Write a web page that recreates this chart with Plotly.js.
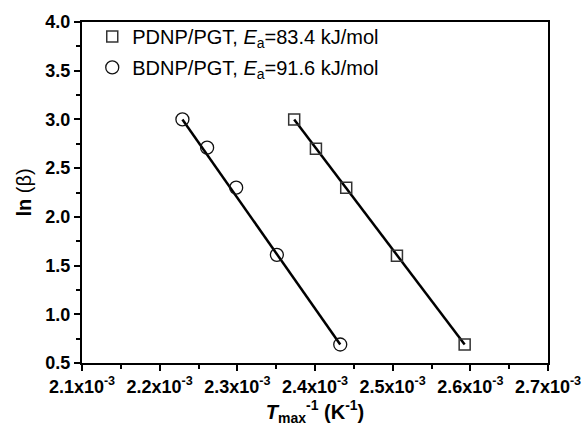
<!DOCTYPE html>
<html>
<head>
<meta charset="utf-8">
<script src="https://cdn.plot.ly/plotly-3.0.1.min.js"></script>
<style>html,body{margin:0;padding:0;background:#fff;}#chart{width:585px;height:435px;}</style>
</head>
<body>
<div id="chart"></div>
<script>
// Data
var pdnpX = [0.0023732, 0.0024012, 0.0024402, 0.0025055, 0.0025927];
var pdnpY = [3.00, 2.70, 2.30, 1.60, 0.69];
var bdnpX = [0.0022293, 0.0022611, 0.0022985, 0.0023509, 0.0024325];
var bdnpY = [3.00, 2.71, 2.30, 1.61, 0.69];
// Fit line endpoints
var pdnpFitX = [0.0023732, 0.0025927];
var pdnpFitY = [3.00, 0.69];
var bdnpFitX = [0.0022293, 0.0024325];
var bdnpFitY = [3.00, 0.69];
var xTickVals = [0.0021, 0.0022, 0.0023, 0.0024, 0.0025, 0.0026, 0.0027];
var xTickText = ['2.1x10<sup>-3</sup>','2.2x10<sup>-3</sup>','2.3x10<sup>-3</sup>','2.4x10<sup>-3</sup>','2.5x10<sup>-3</sup>','2.6x10<sup>-3</sup>','2.7x10<sup>-3</sup>'];
var yTickVals = [0.5, 1.0, 1.5, 2.0, 2.5, 3.0, 3.5, 4.0];
var yTickText = ['0.5','1.0','1.5','2.0','2.5','3.0','3.5','4.0'];
var legendNames = ['PDNP/PGT, <i>E</i><sub>a</sub>=83.4 kJ/mol', 'BDNP/PGT, <i>E</i><sub>a</sub>=91.6 kJ/mol'];

function bold(arr) { return arr.map(function (s) { return '<b>' + s + '</b>'; }); }

var traces = [
  {x: pdnpFitX, y: pdnpFitY, mode: 'lines', line: {color: '#000', width: 2.5}, showlegend: false, hoverinfo: 'skip'},
  {x: bdnpFitX, y: bdnpFitY, mode: 'lines', line: {color: '#000', width: 2.5}, showlegend: false, hoverinfo: 'skip'},
  {x: pdnpX, y: pdnpY, mode: 'markers', name: legendNames[0], legendgroup: 'a',
   marker: {symbol: 'square-open', size: 11, color: '#333', line: {width: 1.5}}},
  {x: bdnpX, y: bdnpY, mode: 'markers', name: legendNames[1], legendgroup: 'b',
   marker: {symbol: 'circle-open', size: 13, color: '#111', line: {width: 1.3}}}
];

var axisCommon = {
  showgrid: false, zeroline: false, showline: true, linecolor: '#000', linewidth: 2,
  mirror: true, ticks: 'outside', ticklen: 6, tickwidth: 2, tickcolor: '#000',
  tickfont: {family: 'Arial, Liberation Sans, sans-serif', size: 18, color: '#000'}
};

var layout = {
  width: 585, height: 435,
  margin: {l: 82, r: 37, t: 22, b: 72},
  paper_bgcolor: '#fff', plot_bgcolor: '#fff',
  font: {family: 'Arial, Liberation Sans, sans-serif', color: '#000'},
  xaxis: Object.assign({}, axisCommon, {
    range: [0.0021, 0.0027], tickmode: 'array', tickvals: xTickVals, ticktext: bold(xTickText),
    minor: {dtick: 0.00005, ticks: 'outside', ticklen: 4, tickwidth: 2, tickcolor: '#000'},
    title: {text: '<b><i>T</i><sub>max</sub><sup>-1</sup> (K<sup>-1</sup>)</b>', font: {size: 20, color: '#000'}, standoff: 9}
  }),
  yaxis: Object.assign({}, axisCommon, {
    range: [0.5, 4.0], tickmode: 'array', tickvals: yTickVals, ticktext: bold(yTickText),
    minor: {dtick: 0.25, ticks: 'outside', ticklen: 4, tickwidth: 2, tickcolor: '#000'},
    title: {text: '<b>ln</b> (β)', font: {size: 20, color: '#000'}, standoff: 8}
  }),
  legend: {x: 0.022, y: 1.015, xanchor: 'left', yanchor: 'top', bgcolor: 'rgba(0,0,0,0)',
    font: {size: 20, color: '#000'}, traceorder: 'grouped', tracegroupgap: 2},
  showlegend: true
};

Plotly.newPlot('chart', traces, layout, {staticPlot: true, displayModeBar: false});
</script>
</body>
</html>
